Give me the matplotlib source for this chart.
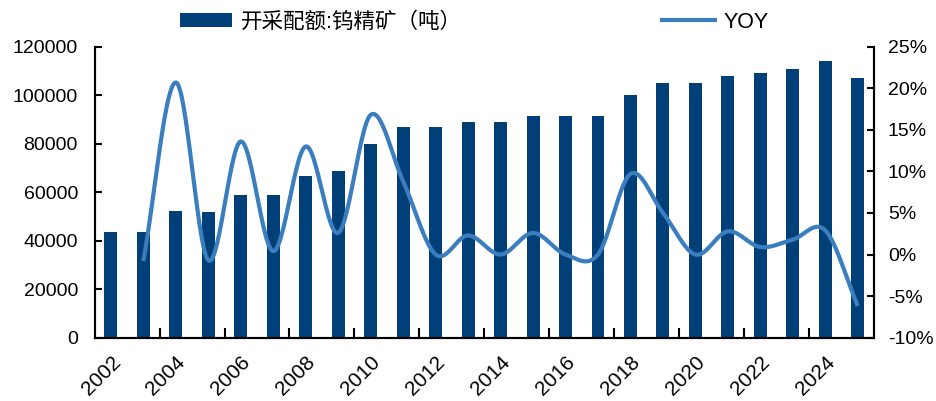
import numpy as np
import matplotlib.pyplot as plt
from matplotlib.patches import Patch
from matplotlib.lines import Line2D

plt.rcParams['font.family'] = ['Liberation Sans', 'Noto Sans CJK SC', 'DejaVu Sans']

years = list(range(2002, 2026))
quota = [43500, 43500, 52300, 52000, 59000, 59000, 66800, 68700, 80000, 87000,
         87000, 89000, 89000, 91300, 91300, 91300, 100000, 105000, 105000, 108000,
         109000, 111000, 114000, 107000]
# YOY in %, starts at 2003
yoy_years = list(range(2003, 2026))
yoy = [-0.8, 20.7, -0.7, 13.6, 0.4, 13.0, 2.6, 16.8, 8.8, 0.0,
       2.3, 0.0, 2.6, 0.0, 0.0, 9.7, 5.0, 0.0, 2.8, 0.9,
       1.8, 2.9, -6.2]

bar_color = '#003F78'
line_color = '#3A7EC0'


def smooth(xs, ys, n=30):
    # catmull-rom style curve through the points, like excel's smoothed line
    xs = np.asarray(xs, float)
    ys = np.asarray(ys, float)
    m = len(xs)
    tx = np.zeros(m)
    ty = np.zeros(m)
    for i in range(m):
        a = max(i - 1, 0)
        b = min(i + 1, m - 1)
        tx[i] = (xs[b] - xs[a]) / (b - a)
        ty[i] = (ys[b] - ys[a]) / (b - a)
    outx, outy = [], []
    t = np.linspace(0, 1, n)
    h00 = 2 * t**3 - 3 * t**2 + 1
    h10 = t**3 - 2 * t**2 + t
    h01 = -2 * t**3 + 3 * t**2
    h11 = t**3 - t**2
    for i in range(m - 1):
        outx.extend(h00 * xs[i] + h10 * tx[i] + h01 * xs[i + 1] + h11 * tx[i + 1])
        outy.extend(h00 * ys[i] + h10 * ty[i] + h01 * ys[i + 1] + h11 * ty[i + 1])
    return np.array(outx), np.array(outy)


fig = plt.figure(figsize=(9.37, 4.01), dpi=100)
ax = fig.add_axes([0.101, 0.158, 0.8318, 0.7255])
ax2 = ax.twinx()

x = np.arange(len(years))
ax.bar(x, quota, width=0.4, color=bar_color, zorder=2)
ax.set_xlim(-0.5, len(years) - 0.5)
ax.set_ylim(0, 120000)
ax.set_yticks(range(0, 120001, 20000))

xi = [years.index(y) for y in yoy_years]
sx, sy = smooth(xi, yoy)
ax2.plot(sx, sy, color=line_color, lw=3, solid_capstyle='butt', zorder=3)
ax2.set_ylim(-10, 25)
ax2.set_yticks(range(-10, 26, 5))
ax2.set_yticklabels([f'{v}%' for v in range(-10, 26, 5)])

# x labels every two years, tick marks between categories
ax.set_xticks(x[::2])
ax.set_xticklabels([str(y) for y in years[::2]], rotation=45, ha='right',
                   va='top', rotation_mode='anchor')
ax.set_xticks(np.arange(1.5, len(years) - 0.5, 2), minor=True)
ax.tick_params(axis='x', which='major', length=0, pad=11, labelsize=15)
ax.tick_params(axis='x', which='minor', direction='in', length=7, width=1.5)
ax.tick_params(axis='y', direction='in', length=5, width=1.5, labelsize=14, pad=12)
ax2.tick_params(axis='y', direction='in', length=5, width=1.5, labelsize=14, pad=10)

for a in (ax, ax2):
    a.spines['top'].set_visible(False)
    for s in ('left', 'right', 'bottom'):
        a.spines[s].set_linewidth(1.5)
ax.set_zorder(ax2.get_zorder() - 1)
ax2.patch.set_visible(False)

handles = [Patch(facecolor=bar_color), Line2D([], [], color=line_color, lw=3)]
labels = ['开采配额:钨精矿（吨）', 'YOY']
fig.legend(handles, labels, loc='center', bbox_to_anchor=(0.506, 0.945), ncol=2,
           frameon=False, handlelength=2.45, handleheight=0.6,
           columnspacing=9.3, handletextpad=0.4,
           prop={'family': ['Liberation Sans', 'Noto Sans CJK SC'], 'size': 15.5})

fig.savefig('out.png', dpi=100)
